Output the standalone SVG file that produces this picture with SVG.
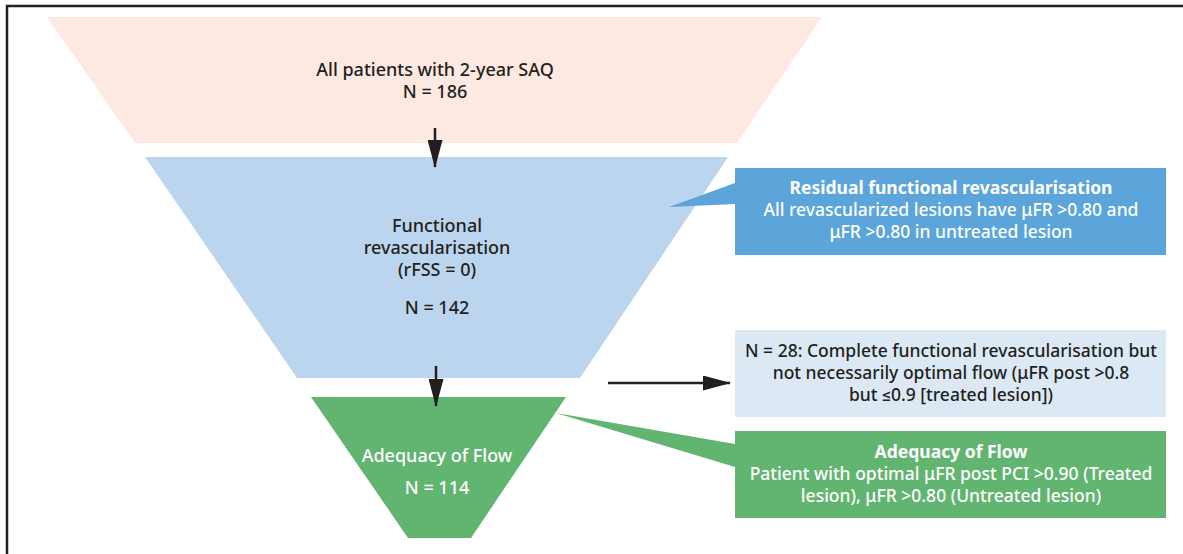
<svg xmlns="http://www.w3.org/2000/svg" width="1183" height="554" viewBox="0 0 1183 554">
<defs>
<style>
.t{font-family:"Noto Sans",Roboto,sans-serif;font-size:18px;font-weight:500;fill:#231F20;text-anchor:middle}
.c{font-family:"Noto Sans",Roboto,sans-serif;font-size:17.5px;font-weight:500;text-anchor:middle}
.w{fill:#FFFFFF}
.d{fill:#231F20}
.b{font-weight:bold}
.ln{stroke:#231F20;stroke-width:2.5;fill:none}
</style>
<marker id="ah" viewBox="0 0 28 15" refX="27" refY="7.5" markerWidth="28" markerHeight="15" markerUnits="userSpaceOnUse" orient="auto">
<path d="M0,0 L28,7.5 L0,15 Z" fill="#231F20"/>
</marker>
</defs>
<rect width="1183" height="554" fill="#FFFFFF"/>
<path d="M7,560 L7,6 L1190,6" fill="none" stroke="#231F20" stroke-width="2.5"/>

<g id="node-all">
<polygon points="47,17 822,17 737,143 135,143" fill="#FDE9E2"/>
<text class="t" x="435" y="76">All patients with 2-year SAQ</text>
<text class="t" x="435" y="98">N = 186</text>
</g>

<g id="node-functional">
<polygon points="145,157 728,157 580,378 297,378" fill="#BBD5EE"/>
<text class="t" x="437" y="232">Functional</text>
<text class="t" x="437" y="254">revascularisation</text>
<text class="t" x="437" y="276">(rFSS = 0)</text>
<text class="t" x="437" y="314">N = 142</text>
</g>

<g id="node-adequacy">
<polygon points="311,397 566,397 471,538 408,538" fill="#62B570"/>
<text class="t w" x="437" y="462">Adequacy of Flow</text>
<text class="t w" x="437" y="494">N = 114</text>
</g>

<g id="callout-residual">
<polygon points="735,183 669,207 735,204" fill="#5BA5DA"/>
<rect x="735" y="168" width="431" height="87" fill="#5BA5DA"/>
<text class="c w b" x="951" y="194">Residual functional revascularisation</text>
<text class="c w" x="951" y="216">All revascularized lesions have μFR &gt;0.80 and</text>
<text class="c w" x="951" y="238">μFR &gt;0.80 in untreated lesion</text>
</g>

<g id="callout-n28">
<rect x="735" y="330" width="431" height="87" fill="#DCE9F5"/>
<text class="c d" x="951" y="357">N = 28: Complete functional revascularisation but</text>
<text class="c d" x="951" y="379">not necessarily optimal flow (μFR post &gt;0.8</text>
<text class="c d" x="951" y="401">but ≤0.9 [treated lesion])</text>
</g>

<g id="callout-adequacy">
<polygon points="556,413 735,444 735,467" fill="#62B570"/>
<rect x="735" y="431" width="431" height="87" fill="#62B570"/>
<text class="c w b" x="951" y="458">Adequacy of Flow</text>
<text class="c w" x="951" y="480">Patient with optimal μFR post PCI &gt;0.90 (Treated</text>
<text class="c w" x="951" y="502">lesion), μFR &gt;0.80 (Untreated lesion)</text>
</g>

<g id="connectors">
<line class="ln" x1="435" y1="128" x2="435" y2="167" marker-end="url(#ah)"/>
<line class="ln" x1="436" y1="366" x2="436" y2="406" marker-end="url(#ah)"/>
<line class="ln" x1="608" y1="383" x2="730" y2="383" marker-end="url(#ah)"/>
</g>
</svg>
